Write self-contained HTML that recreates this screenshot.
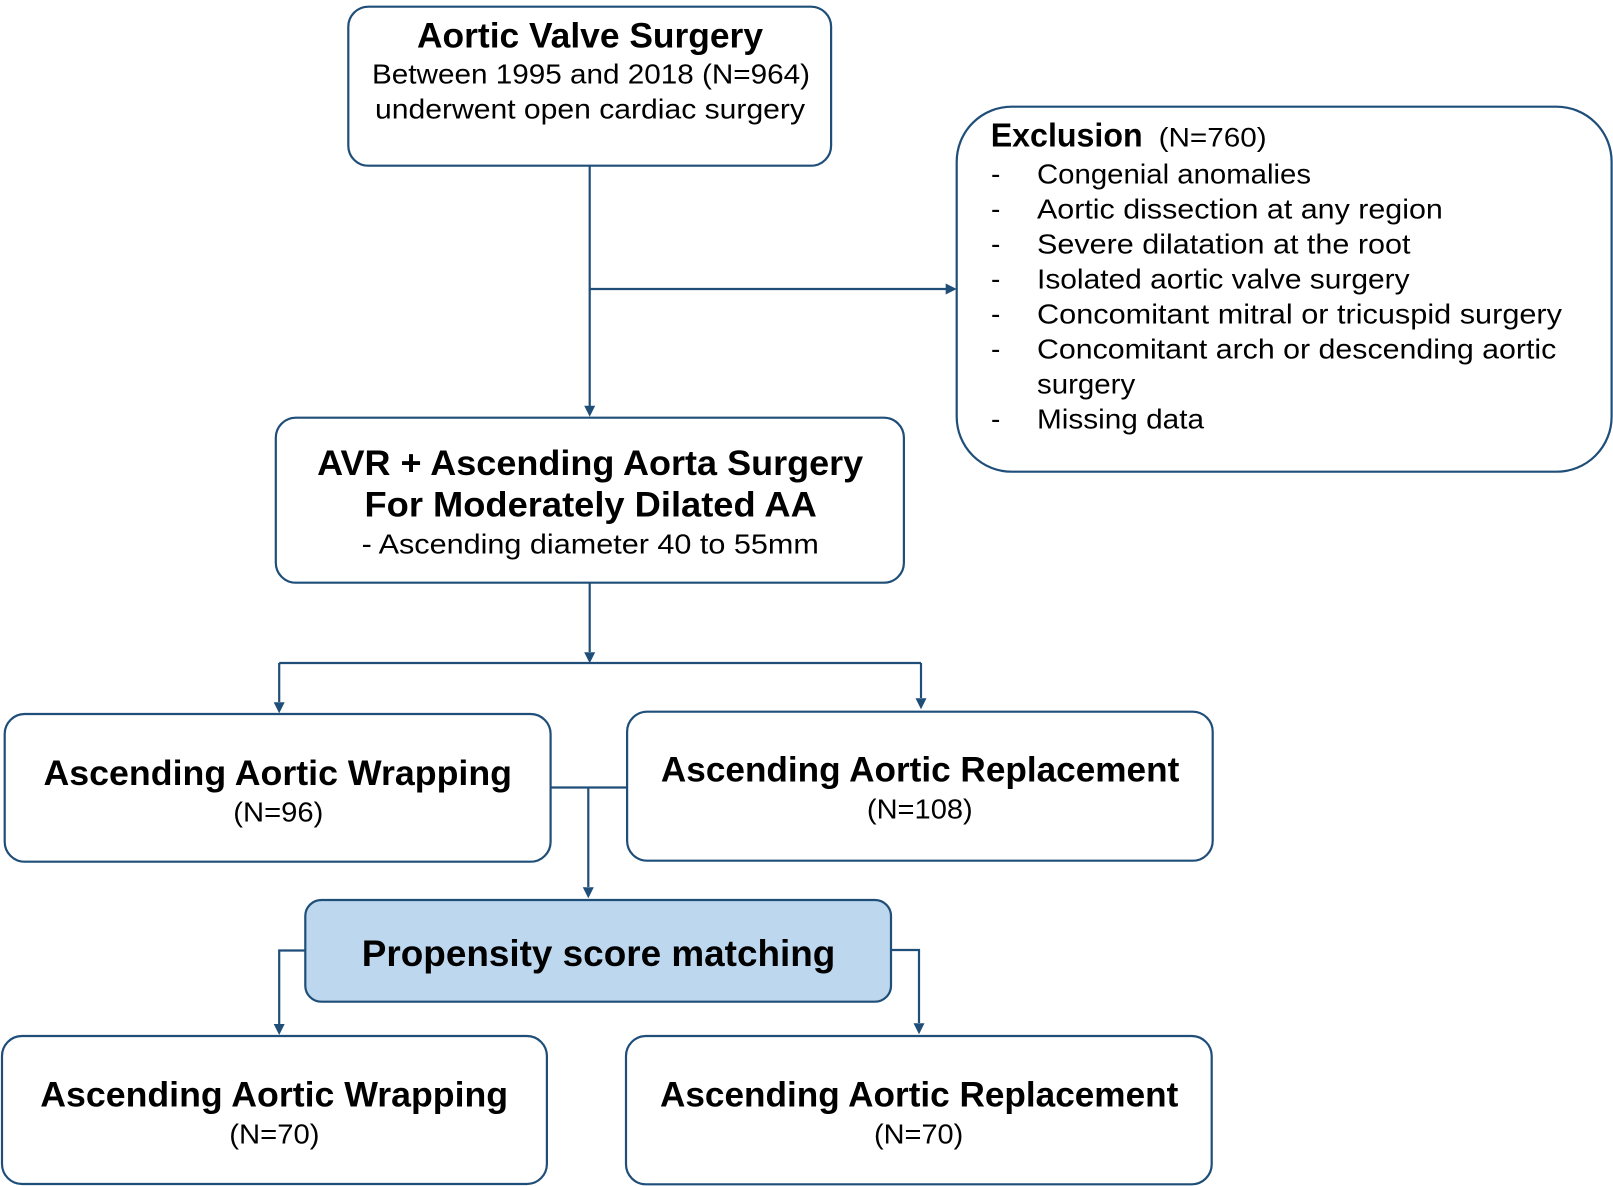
<!DOCTYPE html>
<html>
<head>
<meta charset="utf-8">
<style>
  html, body { margin: 0; padding: 0; background: #ffffff; }
  svg { display: block; }
  text { font-family: "Liberation Sans", "NanumGothic", sans-serif; fill: #000; }
  .b { font-weight: bold; }
</style>
</head>
<body>
<svg width="1613" height="1186" viewBox="0 0 1613 1186" xmlns="http://www.w3.org/2000/svg">
  <rect x="0" y="0" width="1613" height="1186" fill="#ffffff"/>

  <!-- Boxes -->
  <g fill="#ffffff" stroke="#1f4e79" stroke-width="2.2">
    <rect x="348.3" y="6.7" width="482.8" height="159" rx="20" ry="20"/>
    <rect x="956.7" y="106.7" width="654.9" height="365" rx="55" ry="55"/>
    <rect x="275.8" y="417.7" width="628.1" height="165" rx="20" ry="20"/>
    <rect x="4.7" y="714" width="545.9" height="147.7" rx="20" ry="20"/>
    <rect x="627.1" y="711.7" width="585.6" height="149" rx="20" ry="20"/>
    <rect x="305.3" y="900" width="585.7" height="101.7" rx="16" ry="16" fill="#bdd7ee"/>
    <rect x="2" y="1036" width="544.9" height="148" rx="20" ry="20"/>
    <rect x="626" y="1036" width="585.7" height="148.3" rx="20" ry="20"/>
  </g>

  <!-- Connectors -->
  <g fill="none" stroke="#1f4e79" stroke-width="2.2">
    <path d="M589.7 165.7 V406"/>
    <path d="M589.7 289 H946"/>
    <path d="M589.7 582.7 V652"/>
    <path d="M279.2 663 H921"/>
    <path d="M279.2 663 V702"/>
    <path d="M921 663 V698"/>
    <path d="M550.6 787.5 H627.1"/>
    <path d="M588.3 787.5 V887"/>
    <path d="M305.3 950.5 H279.2 V1024"/>
    <path d="M891 950 H919 V1023"/>
  </g>

  <!-- Arrowheads -->
  <g fill="#1f4e79" stroke="none">
    <polygon points="584.2,405.7 595.2,405.7 589.7,416.7"/>
    <polygon points="945.7,283.5 945.7,294.5 956.7,289"/>
    <polygon points="584.2,652.3 595.2,652.3 589.7,663.3"/>
    <polygon points="273.7,702.3 284.7,702.3 279.2,713.3"/>
    <polygon points="915.5,698.3 926.5,698.3 921,709.3"/>
    <polygon points="582.8,887.3 593.8,887.3 588.3,898.3"/>
    <polygon points="273.7,1024 284.7,1024 279.2,1035"/>
    <polygon points="913.5,1023.3 924.5,1023.3 919,1034.3"/>
  </g>

  <!-- Top box text -->
  <text class="b" x="417" y="47.7" font-size="35" textLength="346" lengthAdjust="spacingAndGlyphs">Aortic Valve Surgery</text>
  <text x="372" y="83.3" font-size="28" textLength="438" lengthAdjust="spacingAndGlyphs">Between 1995 and 2018 (N=964)</text>
  <text x="375" y="118.3" font-size="28" textLength="430" lengthAdjust="spacingAndGlyphs">underwent open cardiac surgery</text>

  <!-- Exclusion text -->
  <text class="b" x="990.7" y="146.7" font-size="33" textLength="152" lengthAdjust="spacingAndGlyphs">Exclusion</text>
  <text x="1158.6" y="146.7" font-size="27" textLength="108" lengthAdjust="spacingAndGlyphs">(N=760)</text>

  <g font-size="28">
    <text x="991" y="183.5">-</text>
    <text x="991" y="218.5">-</text>
    <text x="991" y="253.5">-</text>
    <text x="991" y="288.5">-</text>
    <text x="991" y="323.5">-</text>
    <text x="991" y="358.5">-</text>
    <text x="991" y="428.5">-</text>
    <text x="1037" y="183.5" textLength="274" lengthAdjust="spacingAndGlyphs">Congenial anomalies</text>
    <text x="1037" y="218.5" textLength="405.8" lengthAdjust="spacingAndGlyphs">Aortic dissection at any region</text>
    <text x="1037" y="253.5" textLength="373.5" lengthAdjust="spacingAndGlyphs">Severe dilatation at the root</text>
    <text x="1037" y="288.5" textLength="372.6" lengthAdjust="spacingAndGlyphs">Isolated aortic valve surgery</text>
    <text x="1037" y="323.5" textLength="525" lengthAdjust="spacingAndGlyphs">Concomitant mitral or tricuspid surgery</text>
    <text x="1037" y="358.5" textLength="519.3" lengthAdjust="spacingAndGlyphs">Concomitant arch or descending aortic</text>
    <text x="1037" y="393.5" textLength="98.2" lengthAdjust="spacingAndGlyphs">surgery</text>
    <text x="1037" y="428.5" textLength="167" lengthAdjust="spacingAndGlyphs">Missing data</text>
  </g>

  <!-- AVR box text -->
  <text class="b" x="317.2" y="475" font-size="35" textLength="546" lengthAdjust="spacingAndGlyphs">AVR + Ascending Aorta Surgery</text>
  <text class="b" x="364.5" y="516.7" font-size="35" textLength="452.3" lengthAdjust="spacingAndGlyphs">For Moderately Dilated AA</text>
  <text x="361.6" y="553.3" font-size="28" textLength="457.3" lengthAdjust="spacingAndGlyphs">- Ascending diameter 40 to 55mm</text>

  <!-- Wrapping 1 -->
  <text class="b" x="43.5" y="785" font-size="35" textLength="468.5" lengthAdjust="spacingAndGlyphs">Ascending Aortic Wrapping</text>
  <text x="233.3" y="821.7" font-size="28" textLength="90" lengthAdjust="spacingAndGlyphs">(N=96)</text>

  <!-- Replacement 1 -->
  <text class="b" x="660.9" y="781.7" font-size="35" textLength="518.4" lengthAdjust="spacingAndGlyphs">Ascending Aortic Replacement</text>
  <text x="866.9" y="818.3" font-size="28" textLength="105.8" lengthAdjust="spacingAndGlyphs">(N=108)</text>

  <!-- PSM -->
  <text class="b" x="361.8" y="966" font-size="37" textLength="473.5" lengthAdjust="spacingAndGlyphs">Propensity score matching</text>

  <!-- Wrapping 2 -->
  <text class="b" x="40.3" y="1106.7" font-size="35" textLength="467.8" lengthAdjust="spacingAndGlyphs">Ascending Aortic Wrapping</text>
  <text x="229.3" y="1143.3" font-size="28" textLength="90.2" lengthAdjust="spacingAndGlyphs">(N=70)</text>

  <!-- Replacement 2 -->
  <text class="b" x="660" y="1106.5" font-size="35" textLength="518.3" lengthAdjust="spacingAndGlyphs">Ascending Aortic Replacement</text>
  <text x="874" y="1143.3" font-size="28" textLength="89.3" lengthAdjust="spacingAndGlyphs">(N=70)</text>
</svg>
</body>
</html>
